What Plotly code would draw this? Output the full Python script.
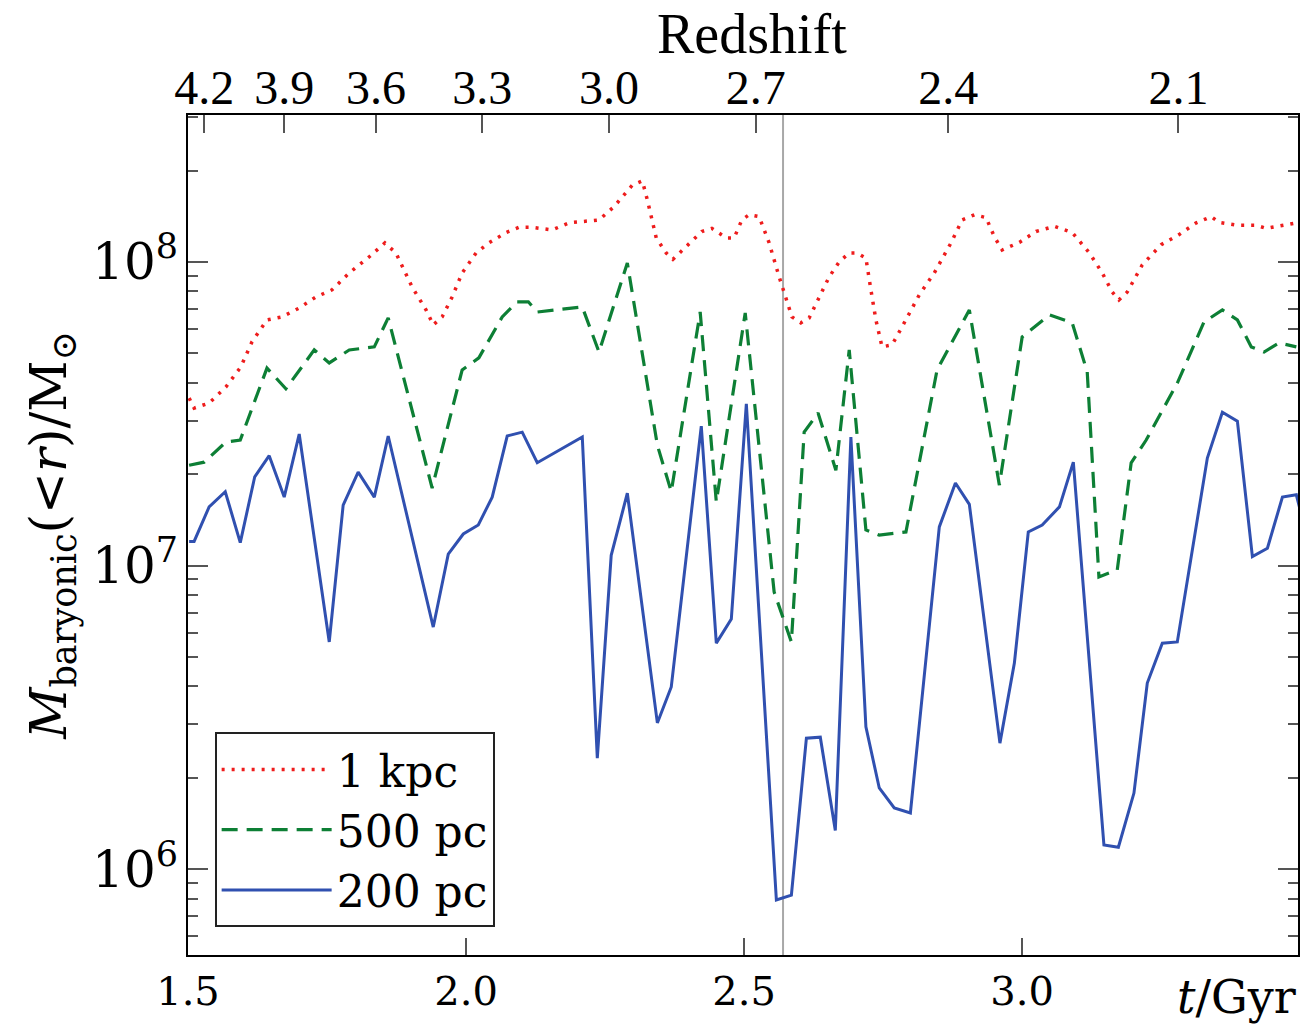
import plotly.graph_objects as go

# ---------------- data ----------------
t_1kpc = [1.502, 1.511, 1.538, 1.568, 1.595, 1.615, 1.642, 1.669, 1.700, 1.730,
          1.759, 1.790, 1.826, 1.854, 1.874, 1.903, 1.928, 1.941, 1.957, 1.975,
          1.993, 2.018, 2.041, 2.072, 2.095, 2.119, 2.155, 2.185, 2.239, 2.266,
          2.299, 2.317, 2.326, 2.342, 2.360, 2.372, 2.395, 2.424, 2.442, 2.468,
          2.482, 2.496, 2.509, 2.527, 2.545, 2.563, 2.586, 2.602, 2.617, 2.635,
          2.653, 2.671, 2.689, 2.703, 2.719, 2.728, 2.737, 2.748, 2.766, 2.784,
          2.815, 2.842, 2.872, 2.892, 2.914, 2.935, 2.950, 2.964, 2.995, 3.025,
          3.058, 3.090, 3.121, 3.144, 3.162, 3.174, 3.189, 3.216, 3.250, 3.282,
          3.313, 3.340, 3.354, 3.387, 3.421, 3.439, 3.471, 3.493]
m_1kpc = [3.56e7, 3.30e7, 3.43e7, 3.87e7, 4.51e7, 5.45e7, 6.44e7, 6.59e7, 7.05e7, 7.67e7,
          8.09e7, 9.20e7, 1.04e8, 1.155e8, 1.07e8, 8.27e7, 6.95e7, 6.20e7, 6.59e7, 7.67e7,
          9.20e7, 1.07e8, 1.155e8, 1.25e8, 1.30e8, 1.30e8, 1.275e8, 1.345e8, 1.375e8, 1.52e8,
          1.79e8, 1.85e8, 1.60e8, 1.20e8, 1.07e8, 1.02e8, 1.12e8, 1.26e8, 1.29e8, 1.20e8,
          1.20e8, 1.375e8, 1.43e8, 1.41e8, 1.155e8, 8.93e7, 6.59e7, 6.30e7, 6.54e7, 7.67e7,
          8.93e7, 1.00e8, 1.07e8, 1.07e8, 1.03e8, 8.09e7, 6.44e7, 5.25e7, 5.33e7, 6.11e7,
          7.79e7, 9.20e7, 1.155e8, 1.375e8, 1.43e8, 1.40e8, 1.21e8, 1.095e8, 1.16e8, 1.26e8,
          1.31e8, 1.25e8, 1.07e8, 9.20e7, 7.96e7, 7.50e7, 7.96e7, 9.78e7, 1.14e8, 1.23e8,
          1.345e8, 1.41e8, 1.35e8, 1.32e8, 1.32e8, 1.29e8, 1.32e8, 1.345e8]

t_500pc = [1.502, 1.529, 1.568, 1.594, 1.642, 1.676, 1.727, 1.754, 1.790, 1.835,
           1.860, 1.939, 1.993, 2.023, 2.065, 2.092, 2.112, 2.128, 2.209, 2.239,
           2.290, 2.344, 2.369, 2.421, 2.450, 2.502, 2.554, 2.585, 2.608, 2.633,
           2.665, 2.689, 2.719, 2.743, 2.791, 2.847, 2.905, 2.959, 3.000, 3.049,
           3.090, 3.117, 3.138, 3.171, 3.196, 3.223, 3.279, 3.327, 3.360, 3.387,
           3.412, 3.435, 3.462, 3.493]
m_500pc = [2.14e7, 2.19e7, 2.55e7, 2.59e7, 4.47e7, 3.82e7, 5.13e7, 4.65e7, 5.13e7, 5.25e7,
           6.54e7, 1.80e7, 4.41e7, 4.83e7, 6.59e7, 7.39e7, 7.39e7, 6.84e7, 7.11e7, 5.05e7,
           9.92e7, 2.49e7, 1.75e7, 6.84e7, 1.62e7, 6.79e7, 8.18e6, 5.60e6, 2.75e7, 3.18e7,
           2.06e7, 5.13e7, 1.31e7, 1.26e7, 1.29e7, 4.41e7, 6.95e7, 1.84e7, 5.66e7, 6.69e7,
           6.30e7, 4.34e7, 9.17e6, 9.67e6, 2.18e7, 2.59e7, 3.99e7, 6.34e7, 6.95e7, 6.44e7,
           5.25e7, 5.05e7, 5.41e7, 5.25e7]

t_200pc = [1.502, 1.511, 1.538, 1.567, 1.594, 1.620, 1.646, 1.673, 1.700, 1.754,
           1.779, 1.806, 1.835, 1.860, 1.941, 1.968, 1.995, 2.022, 2.047, 2.074,
           2.101, 2.128, 2.209, 2.236, 2.261, 2.290, 2.344, 2.369, 2.423, 2.450,
           2.477, 2.504, 2.558, 2.585, 2.612, 2.637, 2.664, 2.692, 2.719, 2.743,
           2.770, 2.799, 2.851, 2.880, 2.905, 2.960, 2.986, 3.011, 3.036, 3.067,
           3.092, 3.147, 3.173, 3.201, 3.225, 3.252, 3.279, 3.333, 3.360, 3.387,
           3.414, 3.441, 3.468, 3.493, 3.500]
m_200pc = [1.20e7, 1.20e7, 1.56e7, 1.75e7, 1.19e7, 1.96e7, 2.30e7, 1.68e7, 2.71e7, 5.60e6,
           1.58e7, 2.03e7, 1.68e7, 2.67e7, 6.27e6, 1.09e7, 1.27e7, 1.36e7, 1.68e7, 2.67e7,
           2.75e7, 2.18e7, 2.65e7, 2.32e6, 1.08e7, 1.73e7, 3.03e6, 3.98e6, 2.88e7, 5.55e6,
           6.66e6, 3.41e7, 7.91e5, 8.21e5, 2.70e6, 2.72e6, 1.34e6, 2.65e7, 2.94e6, 1.85e6,
           1.59e6, 1.53e6, 1.34e7, 1.87e7, 1.59e7, 2.60e6, 4.77e6, 1.29e7, 1.36e7, 1.56e7,
           2.19e7, 1.20e6, 1.18e6, 1.78e6, 4.10e6, 5.55e6, 5.60e6, 2.26e7, 3.20e7, 2.99e7,
           1.07e7, 1.14e7, 1.68e7, 1.71e7, 1.52e7]

series_names = ["1 kpc", "500 pc", "200 pc"]

t_ticks = [1.5, 2.0, 2.5, 3.0]
t_ticktext = ["1.5", "2.0", "2.5", "3.0"]

# time (Gyr) at which each redshift tick sits, and the redshift labels
z_tick_t = [1.529, 1.673, 1.838, 2.029, 2.257, 2.521, 2.867, 3.281]
z_ticktext = ["4.2", "3.9", "3.6", "3.3", "3.0", "2.7", "2.4", "2.1"]

t_marker = 2.570          # vertical reference line
x_range = [1.5, 3.496]
log_y_range = [5.717, 8.484]

# ---------------- figure ----------------
SERIF = "DejaVu Serif"
COND = "Liberation Serif"

fig = go.Figure()
fig.add_trace(go.Scatter(x=t_1kpc, y=m_1kpc, name=series_names[0], mode="lines",
                         line=dict(color="#ee1c1c", width=3.5, dash="3px,7px")))
fig.add_trace(go.Scatter(x=t_500pc, y=m_500pc, name=series_names[1], mode="lines",
                         line=dict(color="#0d7f35", width=3.2, dash="16px,9px")))
fig.add_trace(go.Scatter(x=t_200pc, y=m_200pc, name=series_names[2], mode="lines",
                         line=dict(color="#3050b0", width=3)))
# invisible trace so that the top (redshift) axis is drawn
fig.add_trace(go.Scatter(x=x_range, y=[1e7, 1e7], xaxis="x2", yaxis="y", mode="lines",
                         line=dict(width=0), opacity=0, showlegend=False, hoverinfo="skip"))

fig.add_shape(type="line", xref="x", yref="paper", x0=t_marker, x1=t_marker, y0=0, y1=1,
              line=dict(color="#a8a8a8", width=2), layer="below")

fig.add_annotation(text="<i>t</i>/Gyr", xref="paper", yref="paper", x=1.0, y=-0.05,
                   xanchor="right", yanchor="middle", showarrow=False,
                   font=dict(family=SERIF, size=46, color="black"))
fig.add_annotation(text="Redshift", xref="paper", yref="paper", x=0.508, y=1.097,
                   xanchor="center", yanchor="middle", showarrow=False,
                   font=dict(family=COND, size=56, color="black"))

fig.update_layout(
    width=1313, height=1029,
    margin=dict(l=188, r=15, t=115, b=74),
    paper_bgcolor="white", plot_bgcolor="white",
    showlegend=True,
    legend=dict(x=0.024, y=0.265, xanchor="left", yanchor="top",
                bgcolor="white", bordercolor="#222222", borderwidth=2,
                font=dict(family=SERIF, size=44, color="black"),
                itemwidth=110, tracegroupgap=0),
    xaxis=dict(range=x_range, tickmode="array", tickvals=t_ticks, ticktext=t_ticktext,
               ticks="inside", ticklen=17, tickwidth=1.5, tickcolor="#555555",
               showline=True, linecolor="black", linewidth=2, mirror=True,
               showgrid=False, zeroline=False,
               tickfont=dict(family=SERIF, size=40, color="black")),
    xaxis2=dict(range=x_range, overlaying="x", side="top", tickmode="array",
                tickvals=z_tick_t, ticktext=z_ticktext,
                ticks="inside", ticklen=18, tickwidth=1.5, tickcolor="#555555",
                showline=False, showgrid=False, zeroline=False,
                tickfont=dict(family=COND, size=48, color="black")),
    yaxis=dict(type="log", range=log_y_range, dtick=1, exponentformat="power",
               ticks="inside", ticklen=20, tickwidth=1.5, tickcolor="#555555",
               showline=True, linecolor="black", linewidth=2, mirror="ticks",
               showgrid=False, zeroline=False,
               minor=dict(ticks="inside", ticklen=10, tickwidth=1.5, tickcolor="#555555",
                          dtick="D1", showgrid=False),
               tickfont=dict(family=SERIF, size=40, color="black"),
               title=dict(text="<i>M</i><sub>baryonic</sub>(&lt;<i>r</i>)/M<sub>⊙</sub>",
                          font=dict(family=SERIF, size=50, color="black"), standoff=10)),
)

fig.write_html("out.html")
